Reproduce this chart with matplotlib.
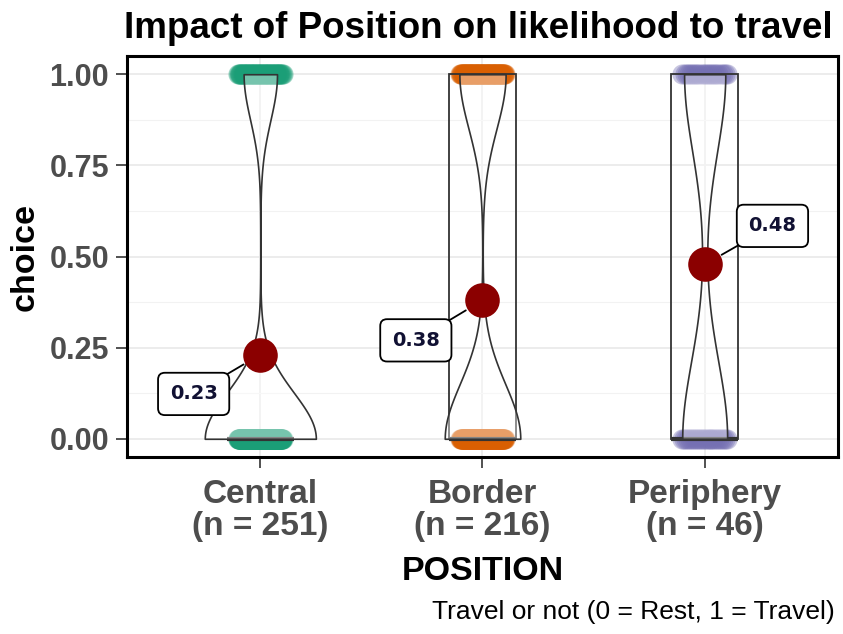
import numpy as np
import matplotlib
matplotlib.use("Agg")
import matplotlib.pyplot as plt
from matplotlib import cbook

# data: counts of 0 (rest) and 1 (travel) per position
positions = ["Central", "Border", "Periphery"]
n_rest = [193, 134, 24]
n_travel = [58, 82, 22]
colors = ["#1B9E77", "#D95F02", "#7570B3"]
# label placement for the mean labels (x, y in data units)
label_xy = [(0.70, 0.123), (1.70, 0.27), (3.305, 0.584)]

groups = [np.r_[np.zeros(r), np.ones(t)] for r, t in zip(n_rest, n_travel)]
means = [g.mean() for g in groups]
xticklabels = [f"{p}\n(n = {len(g)})" for p, g in zip(positions, groups)]


def kde_nrd0(X, coords):
    # gaussian kde with R's bw.nrd0 bandwidth
    X = np.asarray(X)
    sd = X.std(ddof=1)
    iqr = np.subtract(*np.percentile(X, [75, 25]))
    lo = min(sd, iqr / 1.34) if iqr > 0 else sd
    h = 0.9 * lo * len(X) ** -0.2
    d = (coords[:, None] - X[None, :]) / h
    return np.exp(-0.5 * d ** 2).sum(axis=1) / (len(X) * h * np.sqrt(2 * np.pi))


fig = plt.figure(figsize=(8.43, 6.34), dpi=100)
ax = fig.add_axes([127 / 843, (634 - 457) / 634, (838 - 127) / 843, (457 - 56) / 634])

xs = np.arange(1, len(groups) + 1)

# jittered points (evenly spread horizontally)
for i, g in enumerate(groups):
    for val in (0, 1):
        k = int((g == val).sum())
        off = np.linspace(-0.1, 0.1, k)
        ax.scatter(xs[i] + off, np.full(k, val), s=210, color=colors[i],
                   alpha=0.4, linewidths=0, zorder=2)

# boxplots
ax.boxplot(groups, positions=xs, widths=0.3, showfliers=False, showcaps=False,
           patch_artist=True, manage_ticks=False, zorder=3,
           boxprops=dict(facecolor="none", edgecolor="#333333", linewidth=1.3),
           whiskerprops=dict(color="#333333", linewidth=1.3),
           medianprops=dict(color="#333333", linewidth=3))

# violins, scaled by area like ggplot
stats = cbook.violin_stats(groups, kde_nrd0, points=200)
peak = [s["vals"].max() for s in stats]
widths = [0.5 * p / max(peak) for p in peak]
vp = ax.violin(stats, positions=xs, widths=widths, showmeans=False,
               showextrema=False, showmedians=False)
for b in vp["bodies"]:
    b.set_facecolor((1, 1, 1, 0.4))
    b.set_edgecolor("#333333")
    b.set_linewidth(1.2)
    b.set_alpha(None)
    b.set_zorder(4)

# means and labels
ax.scatter(xs, means, s=620, color="#8B0000", zorder=6, linewidths=0)
for x, m, (lx, ly) in zip(xs, means, label_xy):
    ax.annotate(f"{m:.2f}", xy=(x, m), xytext=(lx, ly), textcoords="data",
                ha="center", va="center", fontsize=14, fontweight="bold",
                family="DejaVu Sans", color="#111133", zorder=7,
                bbox=dict(boxstyle="round,pad=0.6,rounding_size=0.35",
                          fc="white", ec="black", lw=1.3),
                arrowprops=dict(arrowstyle="-", color="black", lw=1.3,
                                shrinkA=0, shrinkB=14))

ax.set_xlim(0.4, 3.6)
ax.set_ylim(-0.05, 1.05)
ax.set_xticks(xs)
ax.set_xticklabels(xticklabels, fontsize=24, fontweight="bold", color="#4D4D4D",
                   family="Liberation Sans", linespacing=1.05)
ax.set_yticks([0, 0.25, 0.5, 0.75, 1.0])
ax.set_yticklabels(["0.00", "0.25", "0.50", "0.75", "1.00"], fontsize=22,
                   fontweight="bold", color="#4D4D4D", family="Liberation Sans")
ax.set_yticks([0.125, 0.375, 0.625, 0.875], minor=True)
ax.tick_params(axis="both", which="major", length=8, width=1.2, color="#333333")
ax.tick_params(axis="x", pad=8)
ax.tick_params(axis="y", pad=5)
ax.tick_params(axis="y", which="minor", length=0)
ax.grid(True, which="major", color="#EBEBEB", lw=1.3, zorder=0)
ax.grid(True, which="minor", axis="y", color="#F2F2F2", lw=0.8, zorder=0)
ax.set_axisbelow(True)
for sp in ax.spines.values():
    sp.set_linewidth(2.2)
    sp.set_color("black")

ax.set_xlabel("POSITION", fontsize=24.5, fontweight="bold", family="Liberation Sans",
              labelpad=10)
ax.set_ylabel("choice", fontsize=24.5, fontweight="bold", family="Liberation Sans",
              labelpad=6)
fig.text(478 / 843, 1 - 28 / 634, "Impact of Position on likelihood to travel",
         ha="center", va="center", fontsize=26.5, fontweight="bold",
         family="Liberation Sans")
fig.text(835 / 843, 1 - 612 / 634, "Travel or not (0 = Rest, 1 = Travel)",
         ha="right", va="center", fontsize=19, family="Liberation Sans")

fig.savefig("out.png", dpi=100)
